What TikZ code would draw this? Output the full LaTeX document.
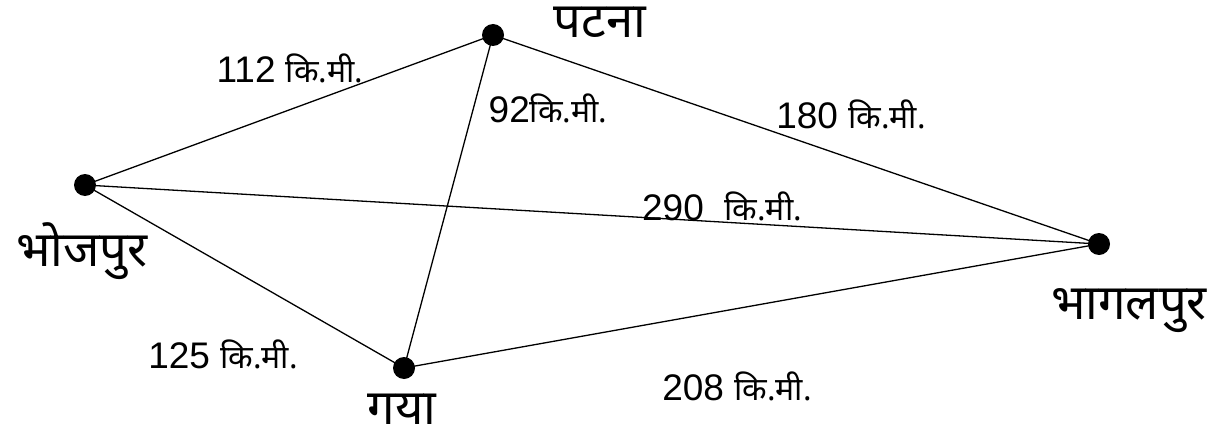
\documentclass[tikz,border=0pt]{standalone}
\usepackage{fontspec}
\setmainfont{Liberation Sans}
\newfontfamily\deva[Script=Devanagari]{Noto Sans}
\usepackage{tikz}

\begin{document}
\begin{tikzpicture}[
    x=1pt, y=-1pt,
    city/.style={circle, fill=black, inner sep=0pt, minimum size=22pt},
    place/.style={font=\deva\fontsize{49}{56}\selectfont, inner sep=0pt},
    dist/.style={font=\fontsize{37}{42}\selectfont, inner sep=0pt},
    road/.style={line width=1.3pt}
]
\useasboundingbox (0,0) rectangle (1220,441);
\newcommand{\km}{{\deva\fontsize{32}{36}\selectfont कि.मी.}}
% cities
\node[city] (patna) at (493,35) {};
\node[city] (bhojpur) at (85,185) {};
\node[city] (gaya) at (404,368) {};
\node[city] (bhagalpur) at (1099,244) {};
% names
\node[place] (npatna) at (600,22) {पटना};
\node[place] (nbhojpur) at (82,251) {भोजपुर};
\node[place] (ngaya) at (402,409) {गया};
\node[place] (nbhagalpur) at (1129,311) {भागलपुर};
% roads
\draw[road] (bhojpur.center) -- (patna.center);
\draw[road] (patna.center) -- (gaya.center);
\draw[road] (patna.center) -- (bhagalpur.center);
\draw[road] (bhojpur.center) -- (bhagalpur.center);
\draw[road] (bhojpur.center) -- (gaya.center);
\draw[road] (gaya.center) -- (bhagalpur.center);
% distances
\node[dist] (d112) at (290,68) {112 \km};
\node[dist] (d92) at (548,108) {92\km};
\node[dist] (d180) at (851,114) {180 \km};
\node[dist] (d290) at (722,206) {290 \ \km};
\node[dist] (d125) at (223,354) {125 \km};
\node[dist] (d208) at (737,386) {208 \km};
\end{tikzpicture}
\end{document}
